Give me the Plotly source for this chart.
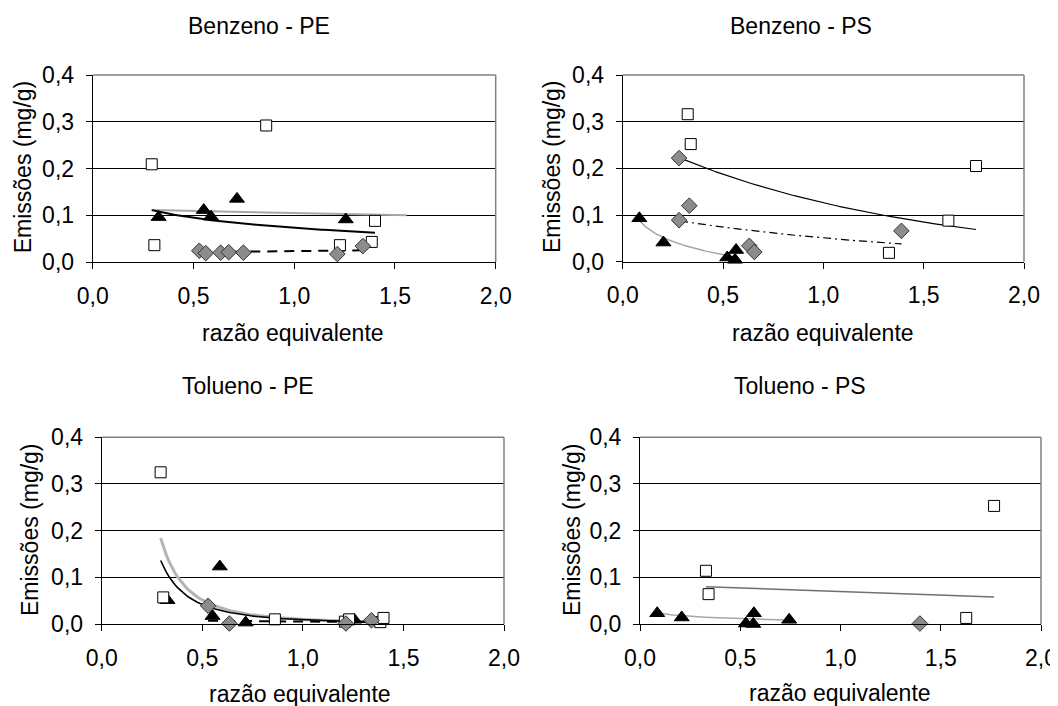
import numpy as np
import plotly.graph_objects as go

# ---------------- data ----------------
# Benzeno - PE
bpe_sq_x = [0.293, 0.306, 0.861, 1.227, 1.385, 1.401]
bpe_sq_y = [0.209, 0.036, 0.292, 0.036, 0.043, 0.088]
bpe_tri_x = [0.327, 0.551, 0.587, 0.716, 1.256]
bpe_tri_y = [0.096, 0.111, 0.097, 0.135, 0.091]
bpe_dia_x = [0.529, 0.561, 0.635, 0.675, 0.748, 1.214, 1.341]
bpe_dia_y = [0.024, 0.019, 0.020, 0.021, 0.020, 0.017, 0.034]

# Benzeno - PS
bps_sq_x = [0.324, 0.339, 1.327, 1.623, 1.761]
bps_sq_y = [0.316, 0.252, 0.019, 0.088, 0.205]
bps_tri_x = [0.083, 0.203, 0.521, 0.560, 0.565]
bps_tri_y = [0.093, 0.041, 0.009, 0.004, 0.025]
bps_dia_x = [0.281, 0.281, 0.332, 0.631, 0.656, 1.389]
bps_dia_y = [0.222, 0.089, 0.120, 0.034, 0.021, 0.066]

# Tolueno - PE
tpe_sq_x = [0.293, 0.306, 0.861, 1.209, 1.230, 1.385, 1.401]
tpe_sq_y = [0.325, 0.057, 0.010, 0.005, 0.010, 0.004, 0.013]
tpe_tri_x = [0.327, 0.551, 0.587, 0.716, 1.256]
tpe_tri_y = [0.051, 0.017, 0.123, 0.003, 0.009]
tpe_dia_x = [0.529, 0.635, 1.214, 1.341]
tpe_dia_y = [0.039, 0.001, 0.001, 0.008]

# Tolueno - PS
tps_sq_x = [0.329, 0.342, 1.627, 1.766]
tps_sq_y = [0.114, 0.064, 0.013, 0.253]
tps_tri_x = [0.086, 0.208, 0.528, 0.565, 0.568, 0.744]
tps_tri_y = [0.023, 0.014, 0.001, 0.000, 0.023, 0.009]
tps_dia_x = [1.396]
tps_dia_y = [0.001]

# trendlines: model, x range, y at the two ends
bpe_trend_gray = ["linear", [0.293, 1.558], [0.111, 0.100]]
bpe_trend_black = ["log", [0.293, 1.401], [0.111, 0.0627]]
bpe_trend_dash = ["linear", [0.529, 1.341], [0.021, 0.025]]

bps_trend_black = ["exp", [0.286, 1.761], [0.222, 0.069]]
bps_trend_dash = ["exp", [0.286, 1.390], [0.087, 0.038]]
bps_trend_gray = ["log", [0.081, 0.551], [0.089, 0.011]]

tpe_trend_gray = ["power", [0.293, 1.401], [0.184, 0.0044]]
tpe_trend_black = ["power", [0.293, 1.401], [0.136, 0.0043]]
tpe_trend_dash = ["linear", [0.529, 1.341], [0.007, 0.004]]

tps_trend_dark = ["linear", [0.329, 1.766], [0.080, 0.058]]
tps_trend_gray = ["log", [0.086, 0.744], [0.024, 0.0086]]

titles = ["Benzeno - PE", "Benzeno - PS", "Tolueno - PE", "Tolueno - PS"]
x_title = "razão equivalente"
y_title = "Emissões (mg/g)"
x_ticks = [0.0, 0.5, 1.0, 1.5, 2.0]
y_ticks = [0.0, 0.1, 0.2, 0.3, 0.4]


def trend_curve(spec, n=80):
    kind, (x0, x1), (y0, y1) = spec
    xs = np.linspace(x0, x1, n)
    if kind == "linear":
        ys = y0 + (y1 - y0) * (xs - x0) / (x1 - x0)
    elif kind == "log":
        d = (y1 - y0) / np.log(x1 / x0)
        ys = y0 + d * np.log(xs / x0)
    elif kind == "exp":
        b = np.log(y1 / y0) / (x1 - x0)
        ys = y0 * np.exp(b * (xs - x0))
    else:  # power
        b = np.log(y1 / y0) / np.log(x1 / x0)
        ys = y0 * (xs / x0) ** b
    return xs, ys


# the page body has an 8px margin: the figure starts at (8, 8) of the window
OFF = 8
W, H = 1058 - OFF, 706 - OFF
FONT = "Liberation Sans, Arial, sans-serif"
FS = 23


def px_x(v):
    return (v - OFF) / W


def px_y(v):
    return 1 - (v - OFF) / H


# plot-area window-pixel boxes: (left, right, top, bottom)
boxes = [
    (92.7, 495.7, 75.0, 262.0),
    (622.7, 1024.0, 75.0, 261.7),
    (101.7, 504.0, 437.3, 624.0),
    (640.0, 1041.0, 437.3, 624.0),
]

fig = go.Figure()

panels = [
    dict(sq=(bpe_sq_x, bpe_sq_y), tri=(bpe_tri_x, bpe_tri_y), dia=(bpe_dia_x, bpe_dia_y),
         trends=[(bpe_trend_gray, "#a6a6a6", 2, "solid"),
                 (bpe_trend_black, "black", 2, "solid"),
                 (bpe_trend_dash, "black", 2, "10px,7px")]),
    dict(sq=(bps_sq_x, bps_sq_y), tri=(bps_tri_x, bps_tri_y), dia=(bps_dia_x, bps_dia_y),
         trends=[(bps_trend_black, "black", 1.2, "solid"),
                 (bps_trend_dash, "black", 1.2, "8px,4px,2px,4px"),
                 (bps_trend_gray, "#a6a6a6", 1.5, "solid")]),
    dict(sq=(tpe_sq_x, tpe_sq_y), tri=(tpe_tri_x, tpe_tri_y), dia=(tpe_dia_x, tpe_dia_y),
         trends=[(tpe_trend_gray, "#b4b4b4", 3, "solid"),
                 (tpe_trend_black, "black", 1.6, "solid"),
                 (tpe_trend_dash, "black", 2, "10px,7px")]),
    dict(sq=(tps_sq_x, tps_sq_y), tri=(tps_tri_x, tps_tri_y), dia=(tps_dia_x, tps_dia_y),
         trends=[(tps_trend_dark, "#707070", 1.5, "solid"),
                 (tps_trend_gray, "#a6a6a6", 1.5, "solid")]),
]

for i, p in enumerate(panels):
    xa = "x" if i == 0 else f"x{i+1}"
    ya = "y" if i == 0 else f"y{i+1}"
    for spec, col, wid, dash in p["trends"]:
        tx, ty = trend_curve(spec)
        fig.add_trace(go.Scatter(x=tx, y=ty, mode="lines", xaxis=xa, yaxis=ya,
                                 line=dict(color=col, width=wid, dash=dash),
                                 hoverinfo="skip", cliponaxis=False))
    fig.add_trace(go.Scatter(x=p["tri"][0], y=p["tri"][1], mode="markers", xaxis=xa, yaxis=ya,
                             marker=dict(symbol="triangle-up", size=13, color="black",
                                         line=dict(color="black", width=1)),
                             cliponaxis=False))
    fig.add_trace(go.Scatter(x=p["sq"][0], y=p["sq"][1], mode="markers", xaxis=xa, yaxis=ya,
                             marker=dict(symbol="square", size=11, color="white",
                                         line=dict(color="black", width=1)),
                             cliponaxis=False))
    fig.add_trace(go.Scatter(x=p["dia"][0], y=p["dia"][1], mode="markers", xaxis=xa, yaxis=ya,
                             marker=dict(symbol="diamond", size=12, color="#8c8c8c",
                                         line=dict(color="#333333", width=1)),
                             cliponaxis=False))

layout = dict(
    template="none",
    width=W, height=H, margin=dict(l=0, r=0, t=0, b=0, autoexpand=False),
    paper_bgcolor="white", plot_bgcolor="white", showlegend=False,
    separators=",.", font=dict(family=FONT, size=FS, color="black"),
)
shapes = []
annotations = []
title_pos = [(258.7, 26), (801, 26), (248, 386), (800, 386)]
xtitle_pos = [(293, 333), (823, 333), (300, 694), (840, 693)]
ytitle_pos = [(23.3, 167), (552, 167), (30, 530), (572, 530)]

for i, (l, r, t, b) in enumerate(boxes):
    suf = "" if i == 0 else str(i + 1)
    layout["xaxis" + suf] = dict(
        domain=[px_x(l), px_x(r)], range=[0, 2], anchor="y" + suf, automargin=False,
        tickvals=x_ticks, tickformat=".1f", ticks="outside", ticklen=6, tickcolor="black",
        tickwidth=1, showline=True, linecolor="black", linewidth=1, showgrid=False,
        zeroline=False, tickfont=dict(size=FS, color="black"), ticklabelstandoff=7,
        fixedrange=True,
    )
    layout["yaxis" + suf] = dict(
        domain=[px_y(b), px_y(t)], range=[0, 0.4], anchor="x" + suf, automargin=False,
        tickvals=y_ticks, tickformat=".1f", ticks="outside", ticklen=6, tickcolor="black",
        tickwidth=1, showline=True, linecolor="black", linewidth=1, showgrid=True,
        gridcolor="black", gridwidth=1, zeroline=False,
        tickfont=dict(size=FS, color="black"), ticklabelstandoff=7, fixedrange=True,
    )
    # gray plot-area border (top and right)
    shapes.append(dict(type="line", xref=f"x{suf} domain", yref=f"y{suf} domain",
                       x0=0, x1=1, y0=1, y1=1, line=dict(color="#808080", width=1.5),
                       layer="above"))
    shapes.append(dict(type="line", xref=f"x{suf} domain", yref=f"y{suf} domain",
                       x0=1, x1=1, y0=0, y1=1, line=dict(color="#808080", width=1.5),
                       layer="above"))
    tx, ty = title_pos[i]
    annotations.append(dict(text=titles[i], x=px_x(tx), y=px_y(ty), xref="paper", yref="paper",
                            showarrow=False, xanchor="center", yanchor="middle",
                            font=dict(size=FS)))
    ax_, ay_ = xtitle_pos[i]
    annotations.append(dict(text=x_title, x=px_x(ax_), y=px_y(ay_), xref="paper", yref="paper",
                            showarrow=False, xanchor="center", yanchor="middle",
                            font=dict(size=FS)))
    bx, by = ytitle_pos[i]
    annotations.append(dict(text=y_title, x=px_x(bx), y=px_y(by), xref="paper", yref="paper",
                            showarrow=False, xanchor="center", yanchor="middle",
                            textangle=-90, font=dict(size=FS)))

layout["shapes"] = shapes
layout["annotations"] = annotations
fig.update_layout(**layout)
fig.write_html("out.html")
